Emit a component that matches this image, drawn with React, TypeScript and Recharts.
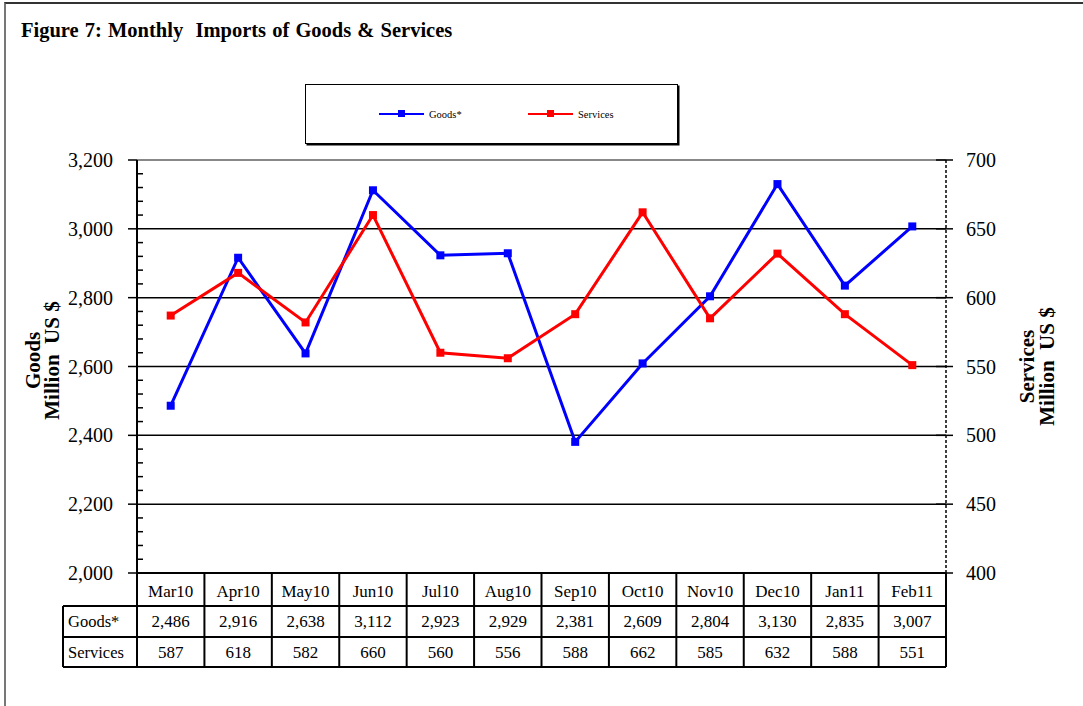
import React from 'react';
import { ComposedChart, Line, XAxis, YAxis, ReferenceLine, Legend } from 'recharts';

const months = ['Mar10', 'Apr10', 'May10', 'Jun10', 'Jul10', 'Aug10', 'Sep10', 'Oct10', 'Nov10', 'Dec10', 'Jan11', 'Feb11'];
const goods = [2486, 2916, 2638, 3112, 2923, 2929, 2381, 2609, 2804, 3130, 2835, 3007];
const services = [587, 618, 582, 660, 560, 556, 588, 662, 585, 632, 588, 551];
const leftMajorTicks = [2000, 2200, 2400, 2600, 2800, 3000, 3200];
const leftMinorStep = 40;
const rightTicks = [400, 450, 500, 550, 600, 650, 700];
const gridValues = [2200, 2400, 2600, 2800, 3000];
const rowLabels = ['Goods*', 'Services'];

const leftTicks: number[] = [];
leftMajorTicks.forEach((v, i) => {
  if (i === leftMajorTicks.length - 1) { leftTicks.push(v); return; }
  for (let t = v; t < leftMajorTicks[i + 1]; t += leftMinorStep) leftTicks.push(t);
});

const data = months.map((m, i) => ({ month: m, goods: goods[i], services: services[i] }));

const FONT = '"Liberation Serif", "Times New Roman", Times, serif';
const W = 1083;
const H = 706;
const PLOT_L = 137;
const PLOT_R = 946;
const PLOT_T = 160;
const PLOT_B = 573;
const PLOT_W = PLOT_R - PLOT_L;
const COL_W = PLOT_W / months.length;
const LABEL_COL_W = 74;
const ROW1_Y = 606;
const ROW2_Y = 637;
const ROW3_Y = 667;

const fmt = (v: number) => v.toLocaleString('en-US');

const XTick = (props: any) => {
  const { x, y, payload, index } = props;
  const i = index;
  const left = x - COL_W / 2;
  const right = x + COL_W / 2;
  const els: any[] = [];
  els.push(<line key="vl" x1={left} y1={y} x2={left} y2={ROW3_Y} stroke="#000" strokeWidth={2} />);
  if (i === months.length - 1) {
    els.push(<line key="vr" x1={right} y1={y} x2={right} y2={ROW3_Y} stroke="#000" strokeWidth={2} />);
  }
  if (i === 0) {
    const tl = left - LABEL_COL_W;
    const tr = left + COL_W * months.length;
    els.push(<line key="h1" x1={tl} y1={ROW1_Y} x2={tr} y2={ROW1_Y} stroke="#000" strokeWidth={2} />);
    els.push(<line key="h2" x1={tl} y1={ROW2_Y} x2={tr} y2={ROW2_Y} stroke="#000" strokeWidth={2} />);
    els.push(<line key="h3" x1={tl} y1={ROW3_Y} x2={tr} y2={ROW3_Y} stroke="#000" strokeWidth={2} />);
    els.push(<line key="lv" x1={tl} y1={ROW1_Y} x2={tl} y2={ROW3_Y} stroke="#000" strokeWidth={2} />);
    els.push(<text key="rl1" x={tl + 5} y={(ROW1_Y + ROW2_Y) / 2} dy="0.35em" fontFamily={FONT} fontSize={16.5} fill="#000">{rowLabels[0]}</text>);
    els.push(<text key="rl2" x={tl + 5} y={(ROW2_Y + ROW3_Y) / 2} dy="0.35em" fontFamily={FONT} fontSize={16.5} fill="#000">{rowLabels[1]}</text>);
  }
  els.push(<text key="hd" x={x} y={(y + ROW1_Y) / 2 + 2} dy="0.35em" textAnchor="middle" fontFamily={FONT} fontSize={17} fill="#000">{payload.value}</text>);
  els.push(<text key="g" x={x} y={(ROW1_Y + ROW2_Y) / 2} dy="0.35em" textAnchor="middle" fontFamily={FONT} fontSize={17} fill="#000">{fmt(goods[i])}</text>);
  els.push(<text key="s" x={x} y={(ROW2_Y + ROW3_Y) / 2} dy="0.35em" textAnchor="middle" fontFamily={FONT} fontSize={17} fill="#000">{fmt(services[i])}</text>);
  return <g>{els}</g>;
};

const LeftTick = (props: any) => {
  const { x, y, payload } = props;
  const v = payload.value;
  const major = leftMajorTicks.includes(v);
  if (major) {
    return (
      <g>
        <line x1={x - 9} y1={y} x2={x} y2={y} stroke="#000" strokeWidth={1.5} />
        <text x={x - 24} y={y} dy="0.35em" textAnchor="end" fontFamily={FONT} fontSize={20} fill="#000">{fmt(v)}</text>
      </g>
    );
  }
  return <line x1={x} y1={y} x2={x + 6} y2={y} stroke="#000" strokeWidth={1.5} />;
};

const RightTick = (props: any) => {
  const { x, y, payload } = props;
  return (
    <g>
      <line x1={x - 10} y1={y} x2={x + 7} y2={y} stroke="#000" strokeWidth={1.5} />
      <text x={x + 20} y={y} dy="0.35em" textAnchor="start" fontFamily={FONT} fontSize={20} fill="#000">{fmt(payload.value)}</text>
    </g>
  );
};

const LeftTitle = (props: any) => {
  const vb = props.viewBox || { x: 77, y: PLOT_T, width: 60, height: PLOT_B - PLOT_T };
  const cy = vb.y + vb.height / 2 - 6;
  const x1 = vb.x - 44;
  const x2 = vb.x - 25;
  return (
    <g fontFamily={FONT} fontSize={21} fontWeight="bold" fill="#000">
      <text x={x1} y={cy} textAnchor="middle" dominantBaseline="central" transform={`rotate(-90, ${x1}, ${cy})`}>Goods</text>
      <text x={x2} y={cy} textAnchor="middle" dominantBaseline="central" transform={`rotate(-90, ${x2}, ${cy})`} style={{ whiteSpace: 'pre' }}>{'Million  US $'}</text>
    </g>
  );
};

const RightTitle = (props: any) => {
  const vb = props.viewBox || { x: PLOT_R, y: PLOT_T, width: 60, height: PLOT_B - PLOT_T };
  const cy = vb.y + vb.height / 2;
  const x1 = vb.x + 81;
  const x2 = vb.x + 101;
  return (
    <g fontFamily={FONT} fontSize={21} fontWeight="bold" fill="#000">
      <text x={x1} y={cy} textAnchor="middle" dominantBaseline="central" transform={`rotate(-90, ${x1}, ${cy})`}>Services</text>
      <text x={x2} y={cy} textAnchor="middle" dominantBaseline="central" transform={`rotate(-90, ${x2}, ${cy})`} style={{ whiteSpace: 'pre' }}>{'Million  US $'}</text>
    </g>
  );
};

const squareDot = (color: string) => (props: any) => {
  const { cx, cy, index } = props;
  return <rect key={`d${index}`} x={cx - 4} y={cy - 4} width={8} height={8} fill={color} stroke="none" />;
};

const LegendContent = (props: any) => {
  const payload = props.payload || [];
  const positions = [73, 222];
  return (
    <div style={{ width: 373, height: 60, border: '1.5px solid #000', boxShadow: '1.5px 1.5px 0 #000', boxSizing: 'border-box', background: '#fff', position: 'relative' }}>
      <svg width={371} height={58} style={{ position: 'absolute', left: 0, top: 0 }}>
        {payload.map((p: any, i: number) => {
          const lx = positions[i] ?? 73 + i * 149;
          return (
            <g key={p.value}>
              <line x1={lx} y1={29} x2={lx + 45} y2={29} stroke={p.color} strokeWidth={2} />
              <rect x={lx + 19} y={25} width={7} height={7} fill={p.color} />
              <text x={lx + 50} y={29} dy="0.35em" fontFamily={FONT} fontSize={10.5} fill="#000">{p.value}</text>
            </g>
          );
        })}
      </svg>
    </div>
  );
};

export default function App() {
  return (
    <div style={{ position: 'absolute', left: 0, top: 0, width: W, height: H, background: '#fff', overflow: 'hidden' }}>
      <div style={{ position: 'absolute', left: 4, top: 2, width: W + 20, height: H + 20, borderLeft: '2px solid #777', borderTop: '2px solid #333' }} />
      <div style={{ position: 'absolute', left: 21, top: 19, fontFamily: FONT, fontWeight: 'bold', fontSize: 20.5, wordSpacing: 1, color: '#000', whiteSpace: 'nowrap' }}>
        Figure 7: Monthly&nbsp; Imports of Goods &amp; Services
      </div>
      <div style={{ position: 'absolute', left: 0, top: 0 }}>
        <ComposedChart width={W} height={H} data={data} margin={{ top: PLOT_T, right: W - PLOT_R - 60, bottom: 0, left: PLOT_L - 60 }}>
          <XAxis
            dataKey="month"
            xAxisId="x"
            height={H - PLOT_B}
            interval={0}
            padding={{ left: COL_W / 2, right: COL_W / 2 }}
            tickSize={0}
            tickMargin={0}
            tickLine={false}
            axisLine={{ stroke: '#000', strokeWidth: 2 }}
            tick={<XTick />}
          />
          <YAxis
            yAxisId="left"
            orientation="left"
            width={60}
            domain={[2000, 3200]}
            ticks={leftTicks}
            interval={0}
            tickSize={0}
            tickMargin={0}
            tickLine={false}
            axisLine={{ stroke: '#000', strokeWidth: 2 }}
            tick={<LeftTick />}
            label={{ content: <LeftTitle /> }}
            allowDataOverflow
          />
          <YAxis
            yAxisId="right"
            orientation="right"
            width={60}
            domain={[400, 700]}
            ticks={rightTicks}
            interval={0}
            tickSize={0}
            tickMargin={0}
            tickLine={false}
            axisLine={{ stroke: '#000', strokeWidth: 1.5, strokeDasharray: '3 2' }}
            tick={<RightTick />}
            label={{ content: <RightTitle /> }}
            allowDataOverflow
          />
          <ReferenceLine yAxisId="left" xAxisId="x" y={3200} stroke="#888" strokeWidth={2} />
          {gridValues.map((v) => (
            <ReferenceLine key={v} yAxisId="left" xAxisId="x" y={v} stroke="#000" strokeWidth={1.5} />
          ))}
          <Legend
            layout="horizontal"
            align="center"
            verticalAlign="middle"
            wrapperStyle={{ position: 'absolute', left: 305, top: 84, width: 373, height: 60 }}
            content={<LegendContent />}
          />
          <Line
            xAxisId="x"
            yAxisId="left"
            dataKey="goods"
            name="Goods*"
            stroke="#0000FF"
            strokeWidth={3}
            dot={squareDot('#0000FF')}
            activeDot={false}
            isAnimationActive={false}
          />
          <Line
            xAxisId="x"
            yAxisId="right"
            dataKey="services"
            name="Services"
            stroke="#FF0000"
            strokeWidth={3}
            dot={squareDot('#FF0000')}
            activeDot={false}
            isAnimationActive={false}
          />
        </ComposedChart>
      </div>
    </div>
  );
}
